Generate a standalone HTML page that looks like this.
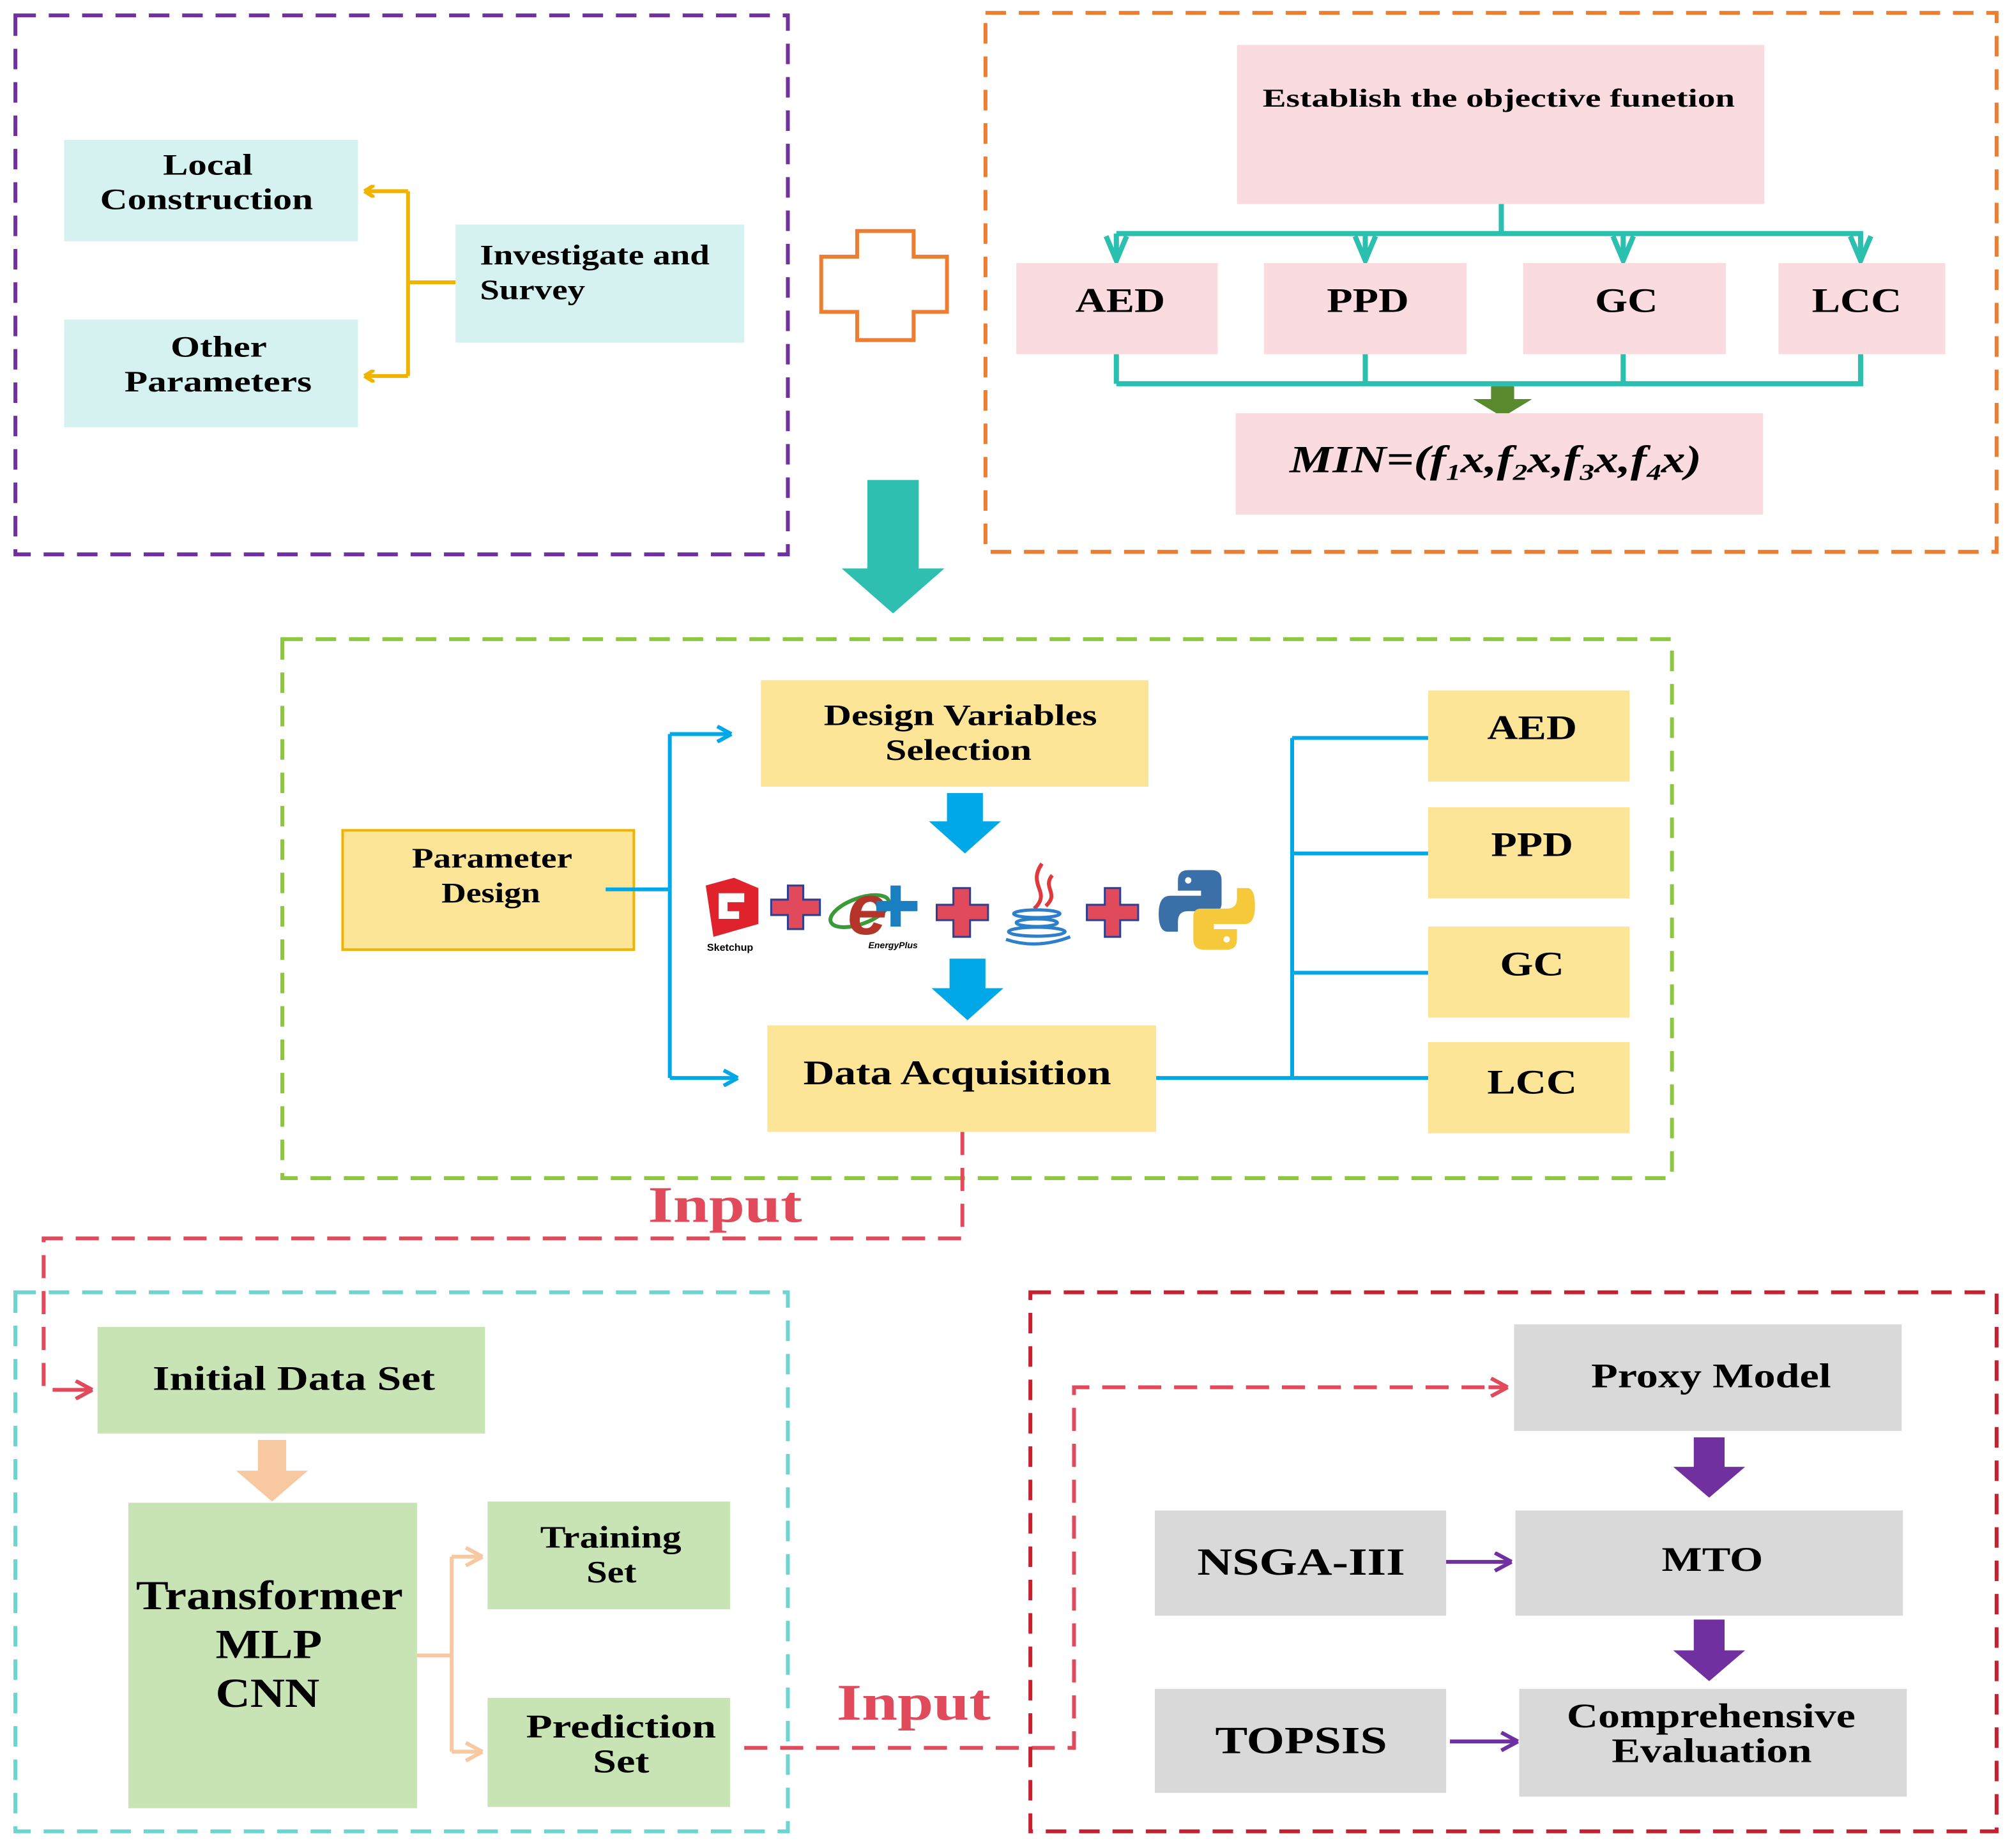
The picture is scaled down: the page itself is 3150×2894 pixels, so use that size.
<!DOCTYPE html>
<html><head><meta charset="utf-8"><style>html,body{margin:0;padding:0;background:#fff}svg{display:block}</style></head>
<body>
<svg width="3150" height="2894" viewBox="0 0 1568 1440" preserveAspectRatio="none" xmlns="http://www.w3.org/2000/svg" font-family="Liberation Serif, serif" font-weight="bold">
<defs>
<marker id="ay" markerWidth="10" markerHeight="10" refX="8" refY="5" orient="auto" markerUnits="userSpaceOnUse"><path d="M8,5 L0,0 M8,5 L0,10" stroke="#f0b400" stroke-width="3" fill="none"/></marker>
<marker id="ab" markerWidth="14" markerHeight="14" refX="12" refY="7" orient="auto" markerUnits="userSpaceOnUse"><path d="M12,7 L1,1 M12,7 L1,13" stroke="#00a8e8" stroke-width="3" fill="none"/></marker>
<marker id="ar" markerWidth="16" markerHeight="16" refX="14" refY="8" orient="auto" markerUnits="userSpaceOnUse"><path d="M14,8 L1,1 M14,8 L1,15" stroke="#e04a5a" stroke-width="3" fill="none"/></marker>
<marker id="ap" markerWidth="16" markerHeight="16" refX="14" refY="8" orient="auto" markerUnits="userSpaceOnUse"><path d="M14,8 L1,1 M14,8 L1,15" stroke="#7030a0" stroke-width="3" fill="none"/></marker>
<marker id="ao" markerWidth="16" markerHeight="16" refX="14" refY="8" orient="auto" markerUnits="userSpaceOnUse"><path d="M14,8 L1,1 M14,8 L1,15" stroke="#f8c9a0" stroke-width="3" fill="none"/></marker>
</defs>

<!-- Section 1 -->
<rect x="12" y="12" width="602" height="420" fill="none" stroke="#7030a0" stroke-width="3" stroke-dasharray="16,10"/>
<rect x="50" y="109" width="229" height="79" fill="#d5f2f0"/>
<text x="127" y="136" font-size="23" textLength="70" lengthAdjust="spacingAndGlyphs">Local</text>
<text x="78" y="163" font-size="23" textLength="166" lengthAdjust="spacingAndGlyphs">Construction</text>
<rect x="50" y="249" width="229" height="84" fill="#d5f2f0"/>
<text x="133" y="278" font-size="23" textLength="75" lengthAdjust="spacingAndGlyphs">Other</text>
<text x="97" y="305" font-size="23" textLength="146" lengthAdjust="spacingAndGlyphs">Parameters</text>
<rect x="355" y="175" width="225" height="92" fill="#d5f2f0"/>
<text x="374" y="206" font-size="22" textLength="179" lengthAdjust="spacingAndGlyphs">Investigate and</text>
<text x="374" y="233" font-size="22" textLength="82" lengthAdjust="spacingAndGlyphs">Survey</text>
<path d="M355,220 H318 M318,149 V293" stroke="#f0b400" stroke-width="3" fill="none"/>
<line x1="318" y1="149" x2="284" y2="149" stroke="#f0b400" stroke-width="3" marker-end="url(#ay)"/>
<line x1="318" y1="293" x2="284" y2="293" stroke="#f0b400" stroke-width="3" marker-end="url(#ay)"/>

<path d="M668,180 H712 V200 H738 V243 H712 V265 H668 V243 H640 V200 H668 Z" fill="none" stroke="#ed7d31" stroke-width="3"/>

<!-- Section 2 -->
<rect x="768" y="10" width="788" height="420" fill="none" stroke="#ed7d31" stroke-width="3" stroke-dasharray="16,10"/>
<rect x="964" y="35" width="411" height="124" fill="#f9dbe0"/>
<text x="984" y="83" font-size="20" textLength="368" lengthAdjust="spacingAndGlyphs">Establish the objective funetion</text>
<g stroke="#2bbfb0" stroke-width="4" fill="none">
<path d="M1170,159 V182 M870,182 H1452"/>
<path d="M870,182 V203 M862,184 L870,203 L878,184"/>
<path d="M1064,182 V203 M1056,184 L1064,203 L1072,184"/>
<path d="M1265,182 V203 M1257,184 L1265,203 L1273,184"/>
<path d="M1450,182 V203 M1442,184 L1450,203 L1458,184"/>
<path d="M870,276 V299 M1064,276 V299 M1265,276 V299 M1450,276 V299 M870,299 H1452"/>
</g>
<rect x="792" y="205" width="157" height="71" fill="#f9dbe0"/>
<rect x="985" y="205" width="158" height="71" fill="#f9dbe0"/>
<rect x="1187" y="205" width="158" height="71" fill="#f9dbe0"/>
<rect x="1386" y="205" width="130" height="71" fill="#f9dbe0"/>
<g font-size="27">
<text x="838" y="243" textLength="70" lengthAdjust="spacingAndGlyphs">AED</text><text x="1034" y="243" textLength="64" lengthAdjust="spacingAndGlyphs">PPD</text><text x="1243" y="243" textLength="49" lengthAdjust="spacingAndGlyphs">GC</text><text x="1412" y="243" textLength="70" lengthAdjust="spacingAndGlyphs">LCC</text>
</g>
<path d="M1162,301 H1180 V311 H1194 L1171,325 L1148,311 H1162 Z" fill="#5a8a2e"/>
<rect x="963" y="322" width="411" height="79" fill="#f9dbe0"/>
<text x="1005" y="368" font-size="30" font-style="italic" textLength="321" lengthAdjust="spacingAndGlyphs">MIN=(f<tspan font-size="18" dy="6">1</tspan><tspan dy="-6">x,f</tspan><tspan font-size="18" dy="6">2</tspan><tspan dy="-6">x,f</tspan><tspan font-size="18" dy="6">3</tspan><tspan dy="-6">x,f</tspan><tspan font-size="18" dy="6">4</tspan><tspan dy="-6">x)</tspan></text>

<path d="M676,374 H716 V443 H736 L696,478 L656,443 H676 Z" fill="#2ebfb0"/>

<!-- Section 3 -->
<rect x="220" y="498" width="1083" height="420" fill="none" stroke="#8dc63f" stroke-width="3" stroke-dasharray="16,10"/>
<rect x="593" y="530" width="302" height="83" fill="#fde598"/>
<text x="642" y="565" font-size="23" textLength="213" lengthAdjust="spacingAndGlyphs">Design Variables</text>
<text x="690" y="592" font-size="23" textLength="114" lengthAdjust="spacingAndGlyphs">Selection</text>
<rect x="267" y="647" width="227" height="93" fill="#fde598" stroke="#f0b400" stroke-width="2"/>
<text x="321" y="676" font-size="22" textLength="125" lengthAdjust="spacingAndGlyphs">Parameter</text>
<text x="344" y="703" font-size="22" textLength="77" lengthAdjust="spacingAndGlyphs">Design</text>
<g stroke="#00a8e8" stroke-width="3" fill="none">
<path d="M472,693 H522 M522,572 V840"/>
<line x1="522" y1="572" x2="570" y2="572" marker-end="url(#ab)"/>
<line x1="522" y1="840" x2="575" y2="840" marker-end="url(#ab)"/>
<path d="M901,840 H1117 M1007,575 V840 M1007,575 H1113 M1007,665 H1113 M1007,758 H1113"/>
</g>
<path d="M738,618 H766 V640 H780 L752,665 L724,640 H738 Z" fill="#00a8e8"/>
<path d="M740,747 H768 V770 H782 L754,795 L726,770 H740 Z" fill="#00a8e8"/>
<!-- icons -->
<path d="M550,690 L572,684 L591,692 L591,720 L556,730 Z" fill="#e0222c"/>
<path d="M560,696 L580,696 L580,703 L567,703 L567,710 L576,710 L576,716 L560,716 Z" fill="#fff"/>
<text x="569" y="741" font-family="Liberation Sans, sans-serif" font-size="8" text-anchor="middle">Sketchup</text>
<g fill="#e04a5a" stroke="#2c3f95" stroke-width="1.5">
<path d="M614,690 H626 V701 H639 V713 H626 V724 H614 V713 H601 V701 H614 Z"/>
<path d="M743,692 H756 V705 H770 V717 H756 V730 H743 V717 H730 V705 H743 Z"/>
<path d="M861,692 H873 V705 H887 V717 H873 V730 H861 V717 H847 V705 H861 Z"/>
</g>
<ellipse cx="670" cy="710" rx="24" ry="10" fill="none" stroke="#3a9a3a" stroke-width="3" transform="rotate(-20 670 710)"/>
<text x="676" y="728" font-size="56" font-style="italic" fill="#b5342a" text-anchor="middle" font-family="Liberation Sans, sans-serif">e</text>
<path d="M694,690 H702 V702 H715 V710 H702 V722 H694 V710 H683 V702 H694 Z" fill="#1a7fc0"/>
<text x="696" y="739" font-size="7" font-style="italic" font-family="Liberation Sans, sans-serif" text-anchor="middle">EnergyPlus</text>
<path d="M812,673 C800,690 820,695 806,708 M820,682 C812,692 826,696 815,706" stroke="#e0393b" stroke-width="3" fill="none"/>
<g stroke="#2c7fc8" stroke-width="2.5" fill="none">
<ellipse cx="808" cy="712" rx="18" ry="3"/><ellipse cx="808" cy="719" rx="16" ry="3"/><ellipse cx="808" cy="726" rx="22" ry="3.5"/><path d="M784,732 Q808,740 834,730"/>
</g>
<path d="M926,678 H944 Q952,678 952,686 V704 Q952,710 946,710 H926 Q918,710 918,718 V726 H910 Q903,726 903,712 Q903,698 912,698 H936 V694 H918 V686 Q918,678 926,678 Z" fill="#3a6fa8"/>
<circle cx="926" cy="686" r="2.5" fill="#fff"/>
<path d="M956,740 H938 Q930,740 930,732 V714 Q930,708 936,708 H956 Q964,708 964,700 V692 H972 Q978,692 978,706 Q978,720 970,720 H946 V724 H964 V732 Q964,740 956,740 Z" fill="#f5c93a"/>
<circle cx="956" cy="732" r="2.5" fill="#fff"/>
<rect x="598" y="799" width="303" height="83" fill="#fde598"/>
<text x="626" y="845" font-size="27" textLength="240" lengthAdjust="spacingAndGlyphs">Data Acquisition</text>
<rect x="1113" y="538" width="157" height="71" fill="#fde598"/>
<rect x="1113" y="629" width="157" height="71" fill="#fde598"/>
<rect x="1113" y="722" width="157" height="71" fill="#fde598"/>
<rect x="1113" y="812" width="157" height="71" fill="#fde598"/>
<g font-size="27">
<text x="1159" y="576" textLength="70" lengthAdjust="spacingAndGlyphs">AED</text><text x="1162" y="667" textLength="64" lengthAdjust="spacingAndGlyphs">PPD</text><text x="1169" y="760" textLength="50" lengthAdjust="spacingAndGlyphs">GC</text><text x="1159" y="852" textLength="70" lengthAdjust="spacingAndGlyphs">LCC</text>
</g>

<!-- red dashed connectors -->
<g stroke="#e04a5a" stroke-width="3" fill="none" stroke-dasharray="18,10">
<path d="M750,882 V965 H34 V1083 H60"/>
<path d="M580,1362 H837 V1081 H1160"/>
</g>
<line x1="58" y1="1083" x2="72" y2="1083" stroke="#e04a5a" stroke-width="3" marker-end="url(#ar)"/>
<line x1="1160" y1="1081" x2="1175" y2="1081" stroke="#e04a5a" stroke-width="3" marker-end="url(#ar)"/>
<text x="505" y="952" font-size="40" fill="#e04a5a" textLength="120" lengthAdjust="spacingAndGlyphs">Input</text>
<text x="652" y="1340" font-size="40" fill="#e04a5a" textLength="120" lengthAdjust="spacingAndGlyphs">Input</text>

<!-- Section 4 -->
<rect x="12" y="1007" width="602" height="420" fill="none" stroke="#6dd5d0" stroke-width="3" stroke-dasharray="16,10"/>
<rect x="76" y="1034" width="302" height="83" fill="#c9e4b4"/>
<text x="119" y="1083" font-size="27" textLength="220" lengthAdjust="spacingAndGlyphs">Initial Data Set</text>
<path d="M201,1122 H223 V1146 H240 L212,1170 L184,1146 H201 Z" fill="#f8c9a0"/>
<rect x="100" y="1171" width="225" height="238" fill="#c9e4b4"/>
<text x="106" y="1254" font-size="32" textLength="208" lengthAdjust="spacingAndGlyphs">Transformer</text>
<text x="168" y="1292" font-size="32" textLength="83" lengthAdjust="spacingAndGlyphs">MLP</text>
<text x="168" y="1330" font-size="32" textLength="81" lengthAdjust="spacingAndGlyphs">CNN</text>
<g stroke="#f8c9a0" stroke-width="3" fill="none">
<path d="M325,1290 H352 M352,1213 V1365"/>
<line x1="352" y1="1213" x2="376" y2="1213" marker-end="url(#ao)"/>
<line x1="352" y1="1365" x2="376" y2="1365" marker-end="url(#ao)"/>
</g>
<rect x="380" y="1170" width="189" height="84" fill="#c9e4b4"/>
<text x="421" y="1206" font-size="24" textLength="110" lengthAdjust="spacingAndGlyphs">Training</text>
<text x="457" y="1233" font-size="24" textLength="39" lengthAdjust="spacingAndGlyphs">Set</text>
<rect x="380" y="1323" width="189" height="85" fill="#c9e4b4"/>
<text x="410" y="1354" font-size="26" textLength="148" lengthAdjust="spacingAndGlyphs">Prediction</text>
<text x="462" y="1381" font-size="26" textLength="44" lengthAdjust="spacingAndGlyphs">Set</text>

<!-- Section 5 -->
<rect x="803" y="1007" width="753" height="420" fill="none" stroke="#c8202f" stroke-width="3" stroke-dasharray="16,10"/>
<rect x="1180" y="1032" width="302" height="83" fill="#d9d9d9"/>
<text x="1240" y="1081" font-size="27" textLength="187" lengthAdjust="spacingAndGlyphs">Proxy Model</text>
<path d="M1320,1120 H1344 V1143 H1360 L1332,1167 L1304,1143 H1320 Z" fill="#7030a0"/>
<rect x="900" y="1177" width="227" height="82" fill="#d9d9d9"/>
<text x="933" y="1227" font-size="30" textLength="162" lengthAdjust="spacingAndGlyphs">NSGA-III</text>
<rect x="1181" y="1177" width="302" height="82" fill="#d9d9d9"/>
<text x="1295" y="1224" font-size="27" textLength="79" lengthAdjust="spacingAndGlyphs">MTO</text>
<line x1="1127" y1="1217" x2="1178" y2="1217" stroke="#7030a0" stroke-width="3" marker-end="url(#ap)"/>
<path d="M1320,1262 H1344 V1286 H1360 L1332,1310 L1304,1286 H1320 Z" fill="#7030a0"/>
<rect x="900" y="1316" width="227" height="81" fill="#d9d9d9"/>
<text x="947" y="1366" font-size="30" textLength="134" lengthAdjust="spacingAndGlyphs">TOPSIS</text>
<rect x="1184" y="1316" width="302" height="84" fill="#d9d9d9"/>
<text x="1221" y="1346" font-size="27" textLength="225" lengthAdjust="spacingAndGlyphs">Comprehensive</text>
<text x="1256" y="1373" font-size="27" textLength="156" lengthAdjust="spacingAndGlyphs">Evaluation</text>
<line x1="1130" y1="1357" x2="1183" y2="1357" stroke="#7030a0" stroke-width="3" marker-end="url(#ap)"/>
</svg>
</body></html>
